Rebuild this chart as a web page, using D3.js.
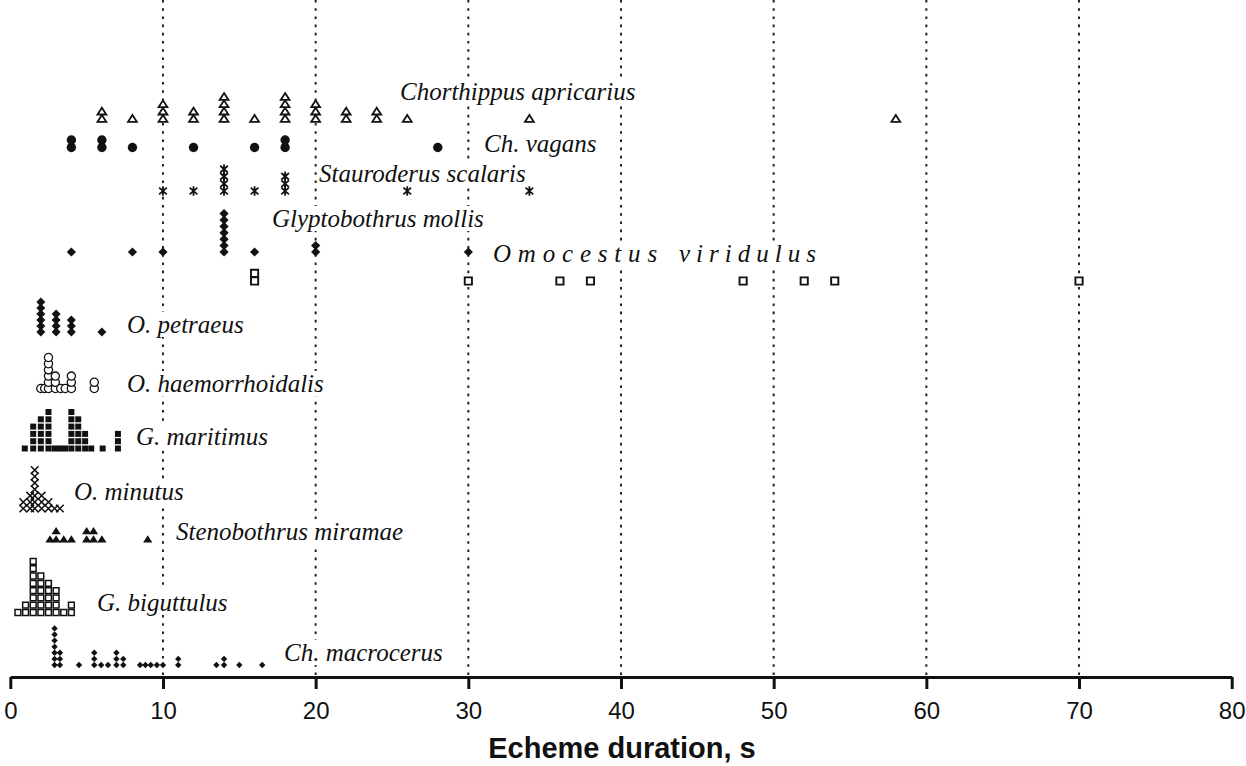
<!DOCTYPE html>
<html>
<head>
<meta charset="utf-8">
<script src="https://cdn.jsdelivr.net/npm/d3@7"></script>
<style>
  body { margin: 0; background: #fff; }
  svg { display: block; }
</style>
</head>
<body>
<svg id="chart" width="1246" height="766"></svg>
<script>
// Echeme durations (s), one entry per recorded echeme
const apricarius = [6,6,8,10,10,10,12,12,14,14,14,14,16,18,18,18,18,20,20,20,22,22,24,24,26,34,58];
const vagans = [4,4,6,6,8,12,16,18,18,28];
const scalaris = [10,12,14,14,14,14,16,18,18,18,26,34];
const mollis = [4,8,10,14,14,14,14,14,14,14,16,20,20,30];
const viridulus = [16,16,30,36,38,48,52,54,70];
const petraeus = [2,2,2,2,2,2,3,3,3,3,4,4,4,6];
const haemorrhoidalis = [2.0,2.25,2.5,2.5,2.5,2.5,2.5,2.5,2.95,2.95,2.95,3.3,3.6,4.0,4.0,4.0,5.5,5.5];
const maritimus = [0.95,1.5,1.5,1.5,1.5,2.0,2.0,2.0,2.0,2.0,2.5,2.5,2.5,2.5,2.5,2.5,2.9,3.25,3.6,
                   4.0,4.0,4.0,4.0,4.0,4.0,4.45,4.45,4.45,4.45,4.45,4.9,4.9,4.9,5.3,6.05,7.05,7.05,7.05];
const minutus = [0.85,0.85,1.3,1.3,1.3,1.6,1.6,1.6,1.6,1.6,1.6,1.6,2.05,2.05,2.05,2.5,2.5,2.9,3.25];
const miramae = [2.6,3.0,3.0,3.5,4.0,5.0,5.0,5.45,5.45,6.0,9.0];
const biguttulus = [0.5,1.0,1.0,1.5,1.5,1.5,1.5,1.5,1.5,1.5,1.5,2.0,2.0,2.0,2.0,2.0,2.0,
                    2.5,2.5,2.5,2.5,2.5,3.0,3.0,3.0,3.0,3.5,4.0,4.0];
const macrocerus = [2.9,2.9,2.9,2.9,2.9,2.9,2.9,3.25,3.25,3.25,4.5,5.5,5.5,5.5,5.95,6.4,6.95,6.95,6.95,
                    7.4,7.4,8.5,8.85,9.2,9.6,10.0,11.0,11.0,13.5,14.0,14.0,15.0,16.5];

const tickValues = [0,10,20,30,40,50,60,70,80];
const gridValues = [10,20,30,40,50,60,70];
const axisTitle = "Echeme duration, s";

// Row layout: baseline of each stack, stack step, marker style and label placement
const rows = [
  { name: "Chorthippus apricarius", data: apricarius, base: 118.5, step: 7.3, shape: "triangle", r: 4.4, open: true, sw: 1.8, lx: 400, ly: 100 },
  { name: "Ch. vagans", data: vagans, base: 147.5, step: 7.5, shape: "circle", r: 4.7, open: false, lx: 484, ly: 152 },
  { name: "Stauroderus scalaris", data: scalaris, base: 191, step: 7.3, shape: "asterisk", r: 4.8, open: true, sw: 1.8, lx: 319, ly: 182 },
  { name: "Glyptobothrus mollis", data: mollis, base: 252, step: 6.4, shape: "diamond", r: 4.6, open: false, lx: 272, ly: 227 },
  { name: "Omocestus viridulus", data: viridulus, base: 281, step: 7.7, shape: "square", r: 3.6, open: true, sw: 1.9, lx: 493, ly: 262, spaced: true },
  { name: "O. petraeus", data: petraeus, base: 332, step: 6, shape: "diamond", r: 4.5, open: false, lx: 127, ly: 333 },
  { name: "O. haemorrhoidalis", data: haemorrhoidalis, base: 388.5, step: 6.2, shape: "circle", r: 4.1, open: true, sw: 1.3, lx: 127, ly: 392 },
  { name: "G. maritimus", data: maritimus, base: 448.5, step: 7.3, shape: "square", r: 3.0, open: false, lx: 136, ly: 445 },
  { name: "O. minutus", data: minutus, base: 508.5, step: 6.4, shape: "times", r: 3.8, open: true, sw: 1.5, lx: 74, ly: 500 },
  { name: "Stenobothrus miramae", data: miramae, base: 539, step: 8.3, shape: "triangle", r: 4.6, open: false, lx: 176, ly: 540 },
  { name: "G. biguttulus", data: biguttulus, base: 612.5, step: 7.3, shape: "square", r: 2.9, open: true, sw: 1.5, lx: 97, ly: 611 },
  { name: "Ch. macrocerus", data: macrocerus, base: 665, step: 6.1, shape: "diamond", r: 3.2, open: false, lx: 284, ly: 661 }
];

// Marker shapes; size is the squared half-width
const shapes = {
  triangle: { draw(c, s) { const r = Math.sqrt(s); c.moveTo(0, -r * 0.8); c.lineTo(r, r * 0.75); c.lineTo(-r, r * 0.75); c.closePath(); } },
  diamond:  { draw(c, s) { const r = Math.sqrt(s); c.moveTo(0, -r); c.lineTo(r, 0); c.lineTo(0, r); c.lineTo(-r, 0); c.closePath(); } },
  square:   { draw(c, s) { const r = Math.sqrt(s); c.rect(-r, -r, 2 * r, 2 * r); } },
  circle:   { draw(c, s) { const r = Math.sqrt(s); c.moveTo(r, 0); c.arc(0, 0, r, 0, 2 * Math.PI); } },
  times:    { draw(c, s) { const r = Math.sqrt(s); c.moveTo(-r, -r); c.lineTo(r, r); c.moveTo(-r, r); c.lineTo(r, -r); } },
  asterisk: { draw(c, s) { const r = Math.sqrt(s); c.moveTo(0, -r); c.lineTo(0, r);
                           c.moveTo(-r * 0.8, -r * 0.7); c.lineTo(r * 0.8, r * 0.7);
                           c.moveTo(-r * 0.8, r * 0.7); c.lineTo(r * 0.8, -r * 0.7); } }
};

const ink = "#111";
const axisY = 677;
const svg = d3.select("#chart");
const x = d3.scaleLinear().domain([0, 80]).range([10.3, 1231.7]);

// dotted reference lines
svg.append("g").selectAll("line").data(gridValues).join("line")
  .attr("x1", d => x(d)).attr("x2", d => x(d))
  .attr("y1", 0).attr("y2", axisY)
  .attr("stroke", "#222").attr("stroke-width", 2)
  .attr("stroke-dasharray", "2.6,5.6");

const bgLayer = svg.append("g");
const markLayer = svg.append("g");
const textLayer = svg.append("g");

rows.forEach(row => {
  // stack repeated durations upward from the row baseline
  const seen = new Map();
  const pts = row.data.map(v => {
    const k = seen.get(v) || 0;
    seen.set(v, k + 1);
    return { v, k };
  });
  const sym = d3.symbol().type(shapes[row.shape]).size(row.r * row.r);
  const strokeOnly = row.shape === "times" || row.shape === "asterisk";
  markLayer.append("g").selectAll("path").data(pts).join("path")
    .attr("d", sym)
    .attr("transform", d => `translate(${x(d.v)},${row.base - d.k * row.step})`)
    .attr("fill", strokeOnly ? "none" : (row.open ? "#fff" : ink))
    .attr("stroke", row.open ? ink : "none")
    .attr("stroke-width", row.open ? row.sw : 0);

  // species name, italic, on a white patch that interrupts the dotted lines
  const t = textLayer.append("text")
    .attr("x", row.lx).attr("y", row.ly)
    .attr("font-family", "'Liberation Serif', 'Times New Roman', serif")
    .attr("font-style", "italic")
    .attr("font-size", 25)
    .attr("fill", ink);
  if (row.spaced) {
    const words = row.name.split(" ");
    t.append("tspan").attr("letter-spacing", 6.8).text(words[0]);
    t.append("tspan").attr("x", 679).attr("letter-spacing", 6.0).text(words[1]);
  } else {
    t.text(row.name);
  }
  const b = t.node().getBBox();
  bgLayer.append("rect")
    .attr("x", b.x - 1).attr("y", b.y + 1)
    .attr("width", b.width + 2).attr("height", b.height - 2)
    .attr("fill", "#fff");
});

// x axis
const axis = d3.axisBottom(x).tickValues(tickValues).tickSize(12).tickSizeOuter(0).tickPadding(13);
const gx = svg.append("g").attr("transform", `translate(0,${axisY})`).call(axis);
gx.select(".domain").attr("stroke", ink).attr("stroke-width", 3);
gx.selectAll(".tick line").attr("stroke", ink).attr("stroke-width", 3);
gx.selectAll(".tick text")
  .attr("fill", ink)
  .attr("font-family", "'Liberation Sans', Arial, sans-serif")
  .attr("font-size", 24);

svg.append("text")
  .attr("x", 622).attr("y", 758)
  .attr("text-anchor", "middle")
  .attr("font-family", "'Liberation Sans', Arial, sans-serif")
  .attr("font-weight", "bold")
  .attr("font-size", 29)
  .attr("fill", ink)
  .text(axisTitle);
</script>
</body>
</html>
